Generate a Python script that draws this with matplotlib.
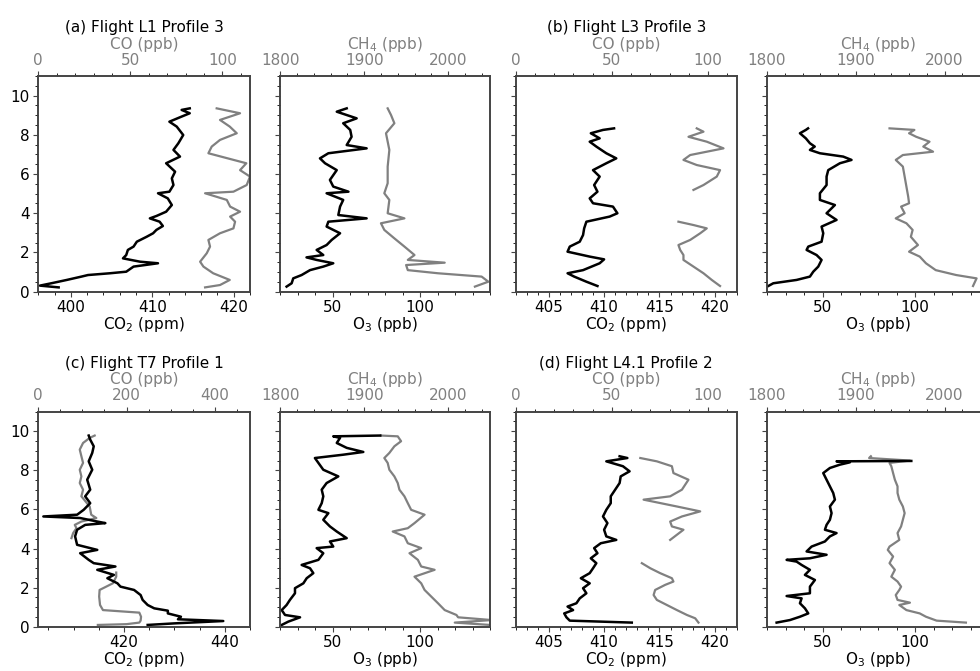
import numpy as np
import matplotlib
matplotlib.use('Agg')
import matplotlib.pyplot as plt
from matplotlib.ticker import AutoMinorLocator

# (a) Flight L1 Profile 3
a_co2_alt = [0.22, 0.31, 0.43, 0.6, 0.77, 0.85, 0.94, 1.02, 1.28, 1.45, 1.53, 1.7, 1.87, 2.13, 2.3, 2.55,
             2.8, 2.98, 3.15, 3.35, 3.57, 3.74, 3.86, 4.08, 4.42, 4.76, 5.02, 5.1, 5.44, 5.78, 6.12, 6.55,
             6.89, 7.23, 7.57, 7.99, 8.42, 8.67, 8.93, 9.1, 9.27, 9.35]
a_co2 = [398.5, 396.2, 397.6, 399.5, 401.3, 402.1, 404.8, 406.8, 407.7, 410.7, 408.5, 406.4, 406.8, 407.0,
         407.7, 408.1, 409.3, 410.1, 410.5, 411.3, 410.9, 409.7, 410.5, 411.7, 412.4, 411.9, 410.7, 412.1,
         412.6, 412.4, 412.8, 411.7, 413.4, 412.6, 413.2, 413.8, 413.0, 412.1, 413.6, 414.6, 413.6, 414.6]
a_co_alt = [0.22, 0.34, 0.6, 0.94, 1.28, 1.53, 1.96, 2.3, 2.64, 2.98, 3.23, 3.57, 3.83, 4.08, 4.34, 4.68,
            5.02, 5.1, 5.44, 5.87, 6.2, 6.55, 7.06, 7.4, 7.74, 8.08, 8.42, 8.76, 9.1, 9.35]
a_co = [90.6, 98.7, 104, 95, 89.7, 87.9, 91.5, 93.3, 92.4, 98.7, 106, 106.9, 104.2, 109.6, 104.2, 102.4,
        90.6, 106, 113.2, 115, 109.6, 113, 92.4, 94.2, 98.7, 107.8, 104, 98.7, 109.6, 96.9]
a_o3_alt = [0.26, 0.43, 0.68, 0.85, 1.1, 1.28, 1.45, 1.62, 1.75, 1.87, 2.13, 2.38, 2.64, 2.98, 3.32, 3.57,
            3.74, 3.91, 4.34, 4.68, 5.02, 5.1, 5.36, 5.7, 6.2, 6.55, 6.8, 7.06, 7.31, 7.48, 7.9, 8.25,
            8.59, 8.84, 9.18, 9.35]
a_o3 = [23.6, 26.5, 27.4, 32.2, 37, 44.6, 50.3, 40.8, 35, 44.6, 40.8, 46.5, 49.4, 54.2, 46.5, 47.5,
        69.4, 53.2, 54.2, 56, 46.5, 59, 50.3, 48.4, 52.3, 45.6, 42.7, 47.5, 69.4, 58, 60.8, 60,
        56, 63.7, 52.3, 58]
a_ch4_alt = [0.26, 0.51, 0.77, 0.94, 1.1, 1.36, 1.48, 1.62, 1.87, 2.3, 2.72, 3.15, 3.49, 3.74, 4.0, 4.68,
             5.02, 5.53, 6.38, 7.23, 8.08, 8.59, 9.01, 9.35]
a_ch4 = [2032, 2048, 2040, 1988, 1952, 1950, 1996, 1952, 1960, 1948, 1936, 1924, 1920, 1948, 1928, 1930,
         1924, 1928, 1928, 1930, 1926, 1936, 1932, 1928]

# (b) Flight L3 Profile 3
b_co2_alt = [0.29, 0.51, 0.77, 0.94, 1.1, 1.45, 1.65, 1.79, 2.04, 2.3, 2.55, 2.89, 3.23, 3.57, 3.83, 4.0,
             4.34, 4.51, 4.76, 5.1, 5.44, 5.87, 6.2, 6.55, 6.8, 7.06, 7.4, 7.65, 7.82, 8.08, 8.25, 8.33]
b_co2 = [409.4, 408.4, 407.3, 406.7, 408.1, 409.6, 410.0, 408.7, 406.7, 406.9, 407.8, 408.1, 408.2, 408.4,
         410.5, 411.2, 410.8, 409.0, 408.7, 409.4, 409.1, 409.6, 409.0, 410.2, 411.1, 410.2, 409.3, 408.7,
         409.6, 408.8, 409.9, 410.9]
b_co_alt = [0.29, 0.6, 0.94, 1.28, 1.62, 1.87, 2.13, 2.38, 2.64, 2.98, 3.23, 3.4, 3.57, 4.3,
            5.19, 5.44, 5.87, 6.2, 6.46, 6.72, 6.97, 7.31, 7.65, 7.9, 8.16, 8.33]
b_co = [106.2, 101.9, 97.6, 92.4, 87.2, 87.2, 85.5, 84.6, 90.7, 95.9, 99.3, 92.4, 84.6, np.nan,
        92.4, 97.6, 104.5, 106.2, 94.1, 87.2, 90.7, 108, 99.3, 89.8, 97.6, 94.1]
b_o3_alt = [0.29, 0.43, 0.6, 0.77, 1.02, 1.28, 1.62, 1.87, 2.13, 2.3, 2.55, 2.98, 3.32, 3.66, 4.0, 4.42,
            4.68, 5.02, 5.44, 5.87, 6.2, 6.55, 6.72, 6.89, 7.06, 7.23, 7.4, 7.57, 7.82, 8.08, 8.25, 8.33]
b_o3 = [20.7, 23.4, 36, 43.2, 45, 47.7, 49.5, 46.8, 41.4, 42.3, 49.5, 50.4, 49.5, 57.6, 52.2, 56.7,
        48.6, 48.6, 52.2, 52.2, 53.1, 59.4, 65.7, 61.2, 48.6, 43.2, 45.8, 43.2, 41, 37.8, 41, 42.2]
b_ch4_alt = [0.29, 0.68, 0.85, 1.1, 1.45, 1.79, 2.04, 2.38, 2.8, 3.15, 3.49, 3.74, 4.0, 4.34, 4.51, 4.85,
             5.36, 5.87, 6.38, 6.72, 6.97, 7.14, 7.4, 7.65, 7.9, 8.08, 8.25, 8.33]
b_ch4 = [2032, 2036, 2013, 1990, 1979, 1972, 1960, 1970, 1962, 1964, 1957, 1945, 1955, 1951, 1960, 1959,
         1957, 1955, 1953, 1945, 1953, 1987, 1976, 1983, 1968, 1960, 1966, 1938]

# (c) Flight T7 Profile 1
c_co2_alt = [0.09, 0.17, 0.29, 0.38, 0.51, 0.68, 0.82, 0.94, 1.11, 1.37, 1.62, 1.88, 2.05, 2.22, 2.48, 2.65,
             2.91, 3.08, 3.25, 3.42, 3.76, 3.93, 4.19, 4.62, 4.96, 5.21, 5.3, 5.38, 5.56, 5.64, 5.73, 5.98,
             6.32, 6.67, 7.01, 7.52, 8.03, 8.46, 8.89, 9.23, 9.57, 9.78]
c_co2 = [424.7, 430, 439.7, 430.7, 431.3, 428.7, 428.7, 426, 424.7, 423.7, 423.3, 422, 419.3, 418.7, 416.7,
         418, 414.7, 418.3, 414, 413, 411.3, 414.7, 410.7, 410.3, 410.7, 412.3, 416.3, 414.7, 411.3, 404,
         410.7, 412, 413.3, 412.3, 413.3, 412.7, 413.7, 413, 413.7, 414, 413.3, 413]
c_co_alt = [0.09, 0.13, 0.21, 0.31, 0.51, 0.72, 0.85, 1.11, 1.54, 1.88, 2.22, 2.56, 2.77, 3.6,
            4.53, 4.79, 5.04, 5.21, 5.38, 5.56, 5.73, 6.15, 6.67, 7.01, 7.35, 7.69, 8.03, 8.38, 8.72,
            9.06, 9.4, 9.66, 9.78]
c_co = [135, 200, 229, 232, 233, 229, 146.6, 140, 138, 139, 169, 176.7, 176.7, np.nan,
        75.2, 79, 86.5, 82.7, 97.7, 131.6, 120, 116.5, 97.7, 101.5, 94, 97.7, 94, 101.5, 97.7,
        94, 101.5, 116.5, 127.8]
c_o3_alt = [0.09, 0.26, 0.48, 0.6, 0.85, 1.11, 1.37, 1.71, 1.97, 2.22, 2.48, 2.74, 2.99, 3.16, 3.42, 3.76,
            4.02, 4.1, 4.36, 4.53, 4.87, 5.13, 5.47, 5.81, 5.98, 6.32, 6.67, 7.01, 7.35, 7.69, 8.03, 8.38,
            8.63, 8.8, 8.94, 9.15, 9.4, 9.66, 9.74, 9.78]
c_o3 = [20.8, 24.6, 31.3, 22.7, 20.8, 23.6, 25.5, 28.4, 28.4, 33.2, 35.1, 38.9, 37, 32.2, 41.8, 44.6,
        40.8, 50.3, 48.4, 58, 52.3, 48.4, 44.6, 47.5, 41.8, 43.7, 44.6, 43.7, 46.5, 53.2, 44.6, 41.8,
        39.8, 56, 67.5, 58, 52.3, 54.2, 50.3, 77.2]
c_ch4_alt = [0.09, 0.21, 0.34, 0.48, 0.6, 0.85, 1.2, 1.54, 1.88, 2.22, 2.56, 2.91, 3.08, 3.42, 3.76, 4.02,
             4.27, 4.62, 4.87, 5.04, 5.3, 5.73, 5.98, 6.32, 6.67, 7.01, 7.35, 7.69, 8.03, 8.38, 8.63, 8.89,
             9.23, 9.49, 9.74, 9.78]
c_ch4 = [2050, 2008, 2052, 2012, 2010, 1996, 1988, 1980, 1972, 1968, 1960, 1984, 1968, 1964, 1954, 1968,
         1952, 1948, 1934, 1952, 1960, 1972, 1956, 1952, 1948, 1942, 1940, 1936, 1930, 1928, 1924, 1930,
         1936, 1944, 1940, 1920]

# (d) Flight L4.1 Profile 2
d_co2_alt = [0.21, 0.31, 0.48, 0.68, 0.85, 1.03, 1.2, 1.45, 1.71, 1.97, 2.22, 2.48, 2.74, 2.99, 3.25, 3.5,
             3.76, 4.02, 4.27, 4.44, 4.62, 4.96, 5.3, 5.64, 5.98, 6.32, 6.67, 7.01, 7.35, 7.69, 7.95, 8.21,
             8.46, 8.63, 8.72]
d_co2 = [412.5, 406.9, 406.6, 406.4, 407.2, 406.7, 407.5, 407.8, 408.4, 408.1, 408.7, 407.9, 408.7, 409,
         409.3, 408.8, 409.4, 409.1, 409.7, 411.1, 410.2, 410, 410.3, 409.9, 410.2, 410.6, 410.6, 411,
         411.4, 411.5, 412.3, 411.7, 410.2, 412.1, 411.4]
d_co_alt = [0.21, 0.43, 0.6, 0.85, 1.11, 1.37, 1.62, 1.88, 2.14, 2.31, 2.48, 2.74, 2.99, 3.25, 3.9,
            4.44, 4.96, 5.13, 5.38, 5.64, 5.9, 6.15, 6.5, 6.67, 7.01, 7.52, 7.86, 8.21, 8.46, 8.63]
d_co = [95, 93.3, 89, 83.8, 78.6, 73.4, 71.7, 72.5, 77.7, 82, 81.2, 75.1, 70, 65.6, np.nan,
        80.3, 87.2, 81.2, 80.3, 86.4, 95.9, 83.8, 66.5, 80.3, 86.4, 89.8, 82, 81.2, 73.4, 64.8]
d_o3_alt = [0.21, 0.34, 0.51, 0.68, 0.94, 1.2, 1.45, 1.57, 1.71, 2.05, 2.39, 2.65, 2.91, 3.16, 3.33, 3.42,
            3.5, 3.68, 3.85, 4.1, 4.36, 4.62, 4.79, 4.96, 5.21, 5.47, 5.81, 6.15, 6.5, 6.84, 7.18, 7.52,
            7.86, 8.12, 8.29, 8.41, 8.46, 8.48]
d_o3 = [25.2, 32.4, 37.8, 42.3, 40.5, 37.8, 38.7, 30.6, 43.2, 43.2, 45.9, 40.5, 43.2, 38.7, 36, 30.6,
        43.2, 52.2, 41.4, 44.1, 51.3, 54, 57.6, 51.3, 52.2, 54, 54.9, 54, 56.7, 55.8, 54, 52.2,
        50.4, 54, 59.4, 64.8, 57.6, 98]
d_ch4_alt = [0.21, 0.31, 0.51, 0.68, 0.85, 1.11, 1.23, 1.37, 1.62, 1.88, 2.05, 2.31, 2.56, 2.91, 3.25, 3.59,
             3.93, 4.1, 4.44, 4.79, 5.13, 5.47, 5.81, 6.15, 6.5, 6.84, 7.18, 7.52, 7.86, 8.21, 8.38, 8.5,
             8.63, 8.72]
d_ch4 = [2024, 1991, 1979, 1972, 1957, 1949, 1961, 1947, 1945, 1949, 1951, 1947, 1940, 1944, 1938, 1942,
         1936, 1938, 1949, 1947, 1951, 1953, 1955, 1953, 1949, 1947, 1947, 1944, 1942, 1940, 1938, 1961,
         1915, 1917]

titles = ['(a) Flight L1 Profile 3', '(b) Flight L3 Profile 3',
          '(c) Flight T7 Profile 1', '(d) Flight L4.1 Profile 2']
profiles = [
    (a_co2_alt, a_co2, a_co_alt, a_co, a_o3_alt, a_o3, a_ch4_alt, a_ch4),
    (b_co2_alt, b_co2, b_co_alt, b_co, b_o3_alt, b_o3, b_ch4_alt, b_ch4),
    (c_co2_alt, c_co2, c_co_alt, c_co, c_o3_alt, c_o3, c_ch4_alt, c_ch4),
    (d_co2_alt, d_co2, d_co_alt, d_co, d_o3_alt, d_o3, d_ch4_alt, d_ch4),
]
co2_lims = [(396, 422), (402, 422), (403, 445), (402, 422)]
co_lims = [(0, 115), (0, 115), (0, 480), (0, 115)]
co2_ticks = [[400, 410, 420], [405, 410, 415, 420], [420, 440], [405, 410, 415, 420]]
co_ticks = [[0, 50, 100], [0, 50, 100], [0, 200, 400], [0, 50, 100]]

W, H = 980, 671
fig = plt.figure(figsize=(W / 100, H / 100), dpi=100)
plt.rcParams['font.size'] = 11

gray = '#808080'
spine_c = '#444444'

# pixel boxes: left, width for each column; top, bottom for each row
col_px = [(38.3, 211.7), (280.3, 209.7), (515.5, 221.5), (767, 222)]
row_px = [(76, 291.7), (411.7, 626.7)]


def style(ax):
    for s in ax.spines.values():
        s.set_color(spine_c)
        s.set_linewidth(1.2)
    ax.tick_params(colors=spine_c, labelcolor='black', labelsize=11, pad=2.5)
    ax.tick_params(which='minor', length=2.5)
    ax.xaxis.set_minor_locator(AutoMinorLocator())


for i, prof in enumerate(profiles):
    row = i // 2
    grp = i % 2
    top, bot = row_px[row]
    co2_alt, co2, co_alt, co, o3_alt, o3, ch4_alt, ch4 = prof
    for k in range(2):
        left, width = col_px[grp * 2 + k]
        ax = fig.add_axes([left / W, 1 - bot / H, width / W, (bot - top) / H])
        ax.set_ylim(0, 11)
        ax.set_yticks([0, 2, 4, 6, 8, 10])
        ax.yaxis.set_minor_locator(AutoMinorLocator())
        ax2 = ax.twiny()
        if k == 0:
            ax2.plot(co, co_alt, color=gray, lw=1.6)
            ax.plot(co2, co2_alt, color='black', lw=1.8)
            ax.set_xlim(*co2_lims[i])
            ax.set_xticks(co2_ticks[i])
            ax.set_xlabel('CO$_2$ (ppm)', labelpad=0)
            ax2.set_xlim(*co_lims[i])
            ax2.set_xticks(co_ticks[i])
            ax2.set_xlabel('CO (ppb)', color=gray, labelpad=3)
            ax2.set_title(titles[i], fontsize=11, pad=3)
        else:
            ax2.plot(ch4, ch4_alt, color=gray, lw=1.6)
            ax.plot(o3, o3_alt, color='black', lw=1.8)
            ax.set_xlim(20, 140)
            ax.set_xticks([50, 100])
            ax.set_xlabel('O$_3$ (ppb)', labelpad=0)
            ax2.set_xlim(1800, 2050)
            ax2.set_xticks([1800, 1900, 2000])
            ax2.set_xlabel('CH$_4$ (ppb)', color=gray, labelpad=3)
        ax.set_zorder(ax2.get_zorder() + 1)
        ax.patch.set_visible(False)
        style(ax)
        style(ax2)
        ax2.tick_params(labelcolor=gray)
        if not (grp == 0 and k == 0):
            ax.set_yticklabels([])

fig.savefig('out.png', dpi=100)
